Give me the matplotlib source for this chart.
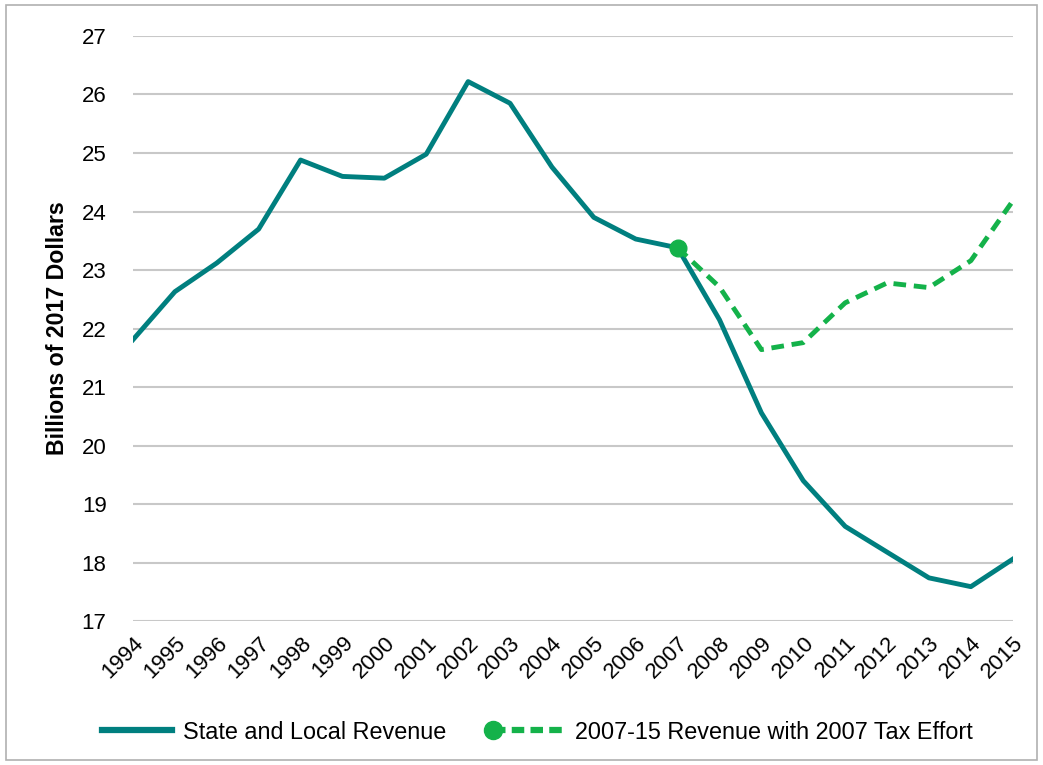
import matplotlib.pyplot as plt
from matplotlib.lines import Line2D
from matplotlib.legend_handler import HandlerLine2D
import matplotlib.patches as mpatches
import numpy as np

plt.rcParams['font.family'] = ['Liberation Sans', 'DejaVu Sans']

years = list(range(1994, 2016))
revenue = [21.81, 22.63, 23.12, 23.70, 24.88, 24.60, 24.57, 24.98, 26.22, 25.85,
           24.76, 23.90, 23.53, 23.38, 22.15, 20.56, 19.40, 18.62, 18.18, 17.74,
           17.59, 18.06]
effort_years = list(range(2007, 2016))
effort = [23.38, 22.71, 21.64, 21.76, 22.44, 22.78, 22.70, 23.16, 24.18]

teal = '#007f7f'
green = '#14b24a'
fs = 16


class StartMarkerHandler(HandlerLine2D):
    # legend marker at the left end of the handle, like Excel does
    def create_artists(self, *args, **kwargs):
        arts = super().create_artists(*args, **kwargs)
        arts[0].set_markevery([0])
        return arts


fig = plt.figure(figsize=(10.43, 7.65), dpi=100)
ax = fig.add_axes([0.1275, 0.188, 0.8435, 0.765])

ax.plot(years, revenue, color=teal, lw=3.5, zorder=3)
ax.plot(effort_years, effort, color=green, lw=3.5, ls=(0, (2.6, 1.6)), zorder=4)
ax.plot(effort_years[0], effort[0], 'o', color=green, ms=12, zorder=5)

ax.set_xlim(1994, 2015)
ax.set_ylim(17, 27)
ax.set_yticks(np.arange(17, 28, 1))
ax.set_xticks(years)
ax.set_xticklabels([str(y) for y in years], rotation=45, ha='right',
                   rotation_mode='anchor', fontsize=fs)
ax.tick_params(axis='y', labelsize=fs, length=0, pad=19)
ax.tick_params(axis='x', length=0, pad=8)
ax.grid(axis='y', color='#c8c8c8', lw=1.5)
ax.set_axisbelow(True)
for s in ax.spines.values():
    s.set_visible(False)
ax.set_ylabel('Billions of 2017 Dollars', fontsize=16.7, fontweight='bold', labelpad=9)

h_rev = Line2D([], [], color=teal, lw=4.5)
h_eff = Line2D([], [], color=green, lw=4.5, ls=(0, (2.0, 1.0)), marker='o', ms=13)
fig.legend([h_rev, h_eff],
           ['State and Local Revenue', '2007-15 Revenue with 2007 Tax Effort'],
           loc='center', bbox_to_anchor=(0.515, 0.043), ncol=2, frameon=False,
           fontsize=16.8, handlelength=3.0, columnspacing=2.0, handletextpad=0.5,
           handler_map={h_eff: StartMarkerHandler(numpoints=1)})

fig.patches.append(mpatches.Rectangle((0.006, 0.006), 0.988, 0.988, transform=fig.transFigure,
                                      fill=False, edgecolor='#b0b0b0', lw=1.2))

plt.savefig('out.png', dpi=100)
